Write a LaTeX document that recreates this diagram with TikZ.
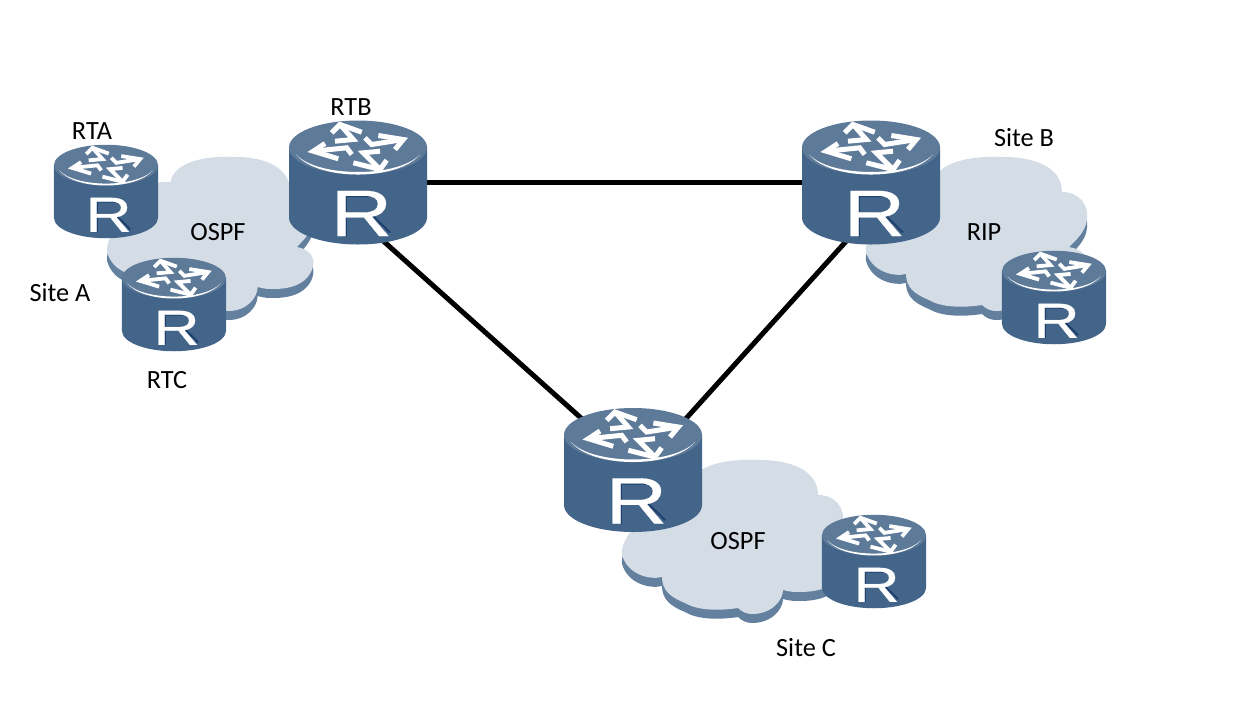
\documentclass[tikz,border=0pt]{standalone}
\usepackage{fontspec}
\setmainfont{Carlito}
\newfontfamily\routerfont[FakeBold=0.3]{Liberation Sans}
\usepackage{xcolor}
\definecolor{body}{HTML}{44658A}
\definecolor{lid}{HTML}{5E7A99}
\definecolor{rshadow}{HTML}{1E3F6B}
\definecolor{cloudtop}{HTML}{D4DCE6}
\definecolor{cloudside}{HTML}{64809F}
\usepackage{tikz}

\begin{document}
\begin{tikzpicture}[%
    x=1pt,
    y=1pt,
    caption/.style={
        font=\fontsize{26.3}{26.3}\selectfont,
        inner sep=0,
        text=black
    },
    link/.style={
        draw,
        black,
        line width=5pt
    },
    routerline/.style={line width=5pt},
    smallrouter/.style={
        scale=0.754,
        routerline/.style={line width=3.8pt}
    },
    arrowline/.style={
        draw=white,
        routerline,
        line join=miter
    },
    pics/router/.style={
        code={
            \fill [body] (-69,35) -- (-69,-35) arc (180:360:69 and 27) -- (69,35) -- cycle;
            \fill [lid] (0,35) ellipse (69 and 27);
            \fill [white] (-62,28) .. controls (-40,1.3) and (40,1.3) .. (62,28)
                .. controls (40,4.7) and (-40,4.7) .. cycle;
            % four bent arrows on the lid
            \draw [arrowline] (-26.3,49.7) -- (-18,58) -- (3.7,50.3);
            \draw [arrowline] (-18,58) -- (-4.7,43) -- (-23,41.3);
            \draw [arrowline] (20.3,47) -- (45.3,43) -- (37,33);
            \draw [arrowline] (45.3,43) -- (13.7,38) -- (7,44.7);
            \draw [arrowline] (-33,39) -- (-44.7,31.3) -- (-19.7,23.7);
            \draw [arrowline] (-44.7,31.3) -- (-11.3,34.7) -- (-6.3,28);
            \draw [arrowline] (-4.7,19.7) -- (22,13) -- (28.7,22.3);
            \draw [arrowline] (22,13) -- (5.3,29.7) -- (22,31.3);
            % letter with its dark edge
            \draw [rshadow, line width=1.8pt]
                (20,-13.7) -- (-12,-13.7) -- (-12,-54)
                (-12,-30.5) -- (12,-30.5) -- (32,-50);
            \node [
                font=\fontsize{65.6}{65.6}\selectfont\routerfont,
                text=white,
                inner sep=0,
                anchor=base,
                xscale=1.3,
                transform shape
            ] (-letter) at (3.5,-53.5) {R};
        }
    },
    pics/netcloud/.style={
        code={
            \foreach \drop/\tone in {-9/cloudside, 0/cloudtop} {
                \fill [\tone, yshift=\drop] (-41,50)
                    .. controls (-39,65) and (-16,77) .. (29,75)
                    .. controls (59,75) and (87,65) .. (87,40)
                    .. controls (104,40) and (114,27) .. (112,13)
                    .. controls (111,0) and (99,-10) .. (94,-15)
                    .. controls (107,-17) and (114,-25) .. (111,-35)
                    .. controls (107,-50) and (91,-57) .. (69,-57)
                    .. controls (64,-57) and (59,-57) .. (52,-55)
                    .. controls (52,-65) and (41,-79) .. (21,-79)
                    .. controls (16,-79) and (11,-77) .. (7,-73)
                    .. controls (-6,-75) and (-31,-77) .. (-46,-68)
                    .. controls (-61,-62) and (-69,-55) .. (-69,-42)
                    .. controls (-81,-45) and (-103,-40) .. (-109,-20)
                    .. controls (-111,-5) and (-91,15) .. (-81,30)
                    .. controls (-76,40) and (-61,52) .. (-41,50)
                    -- cycle;
            }
        }
    }
]

\useasboundingbox (0,0) rectangle (1253,-721);

\coordinate (rtb) at (358,-182.5);
\coordinate (rtd) at (871,-182.5);
\coordinate (rte) at (633,-470);
\coordinate (rta) at (106,-191.5);
\coordinate (rtc) at (174,-304.5);
\coordinate (rtf) at (1054,-297.5);
\coordinate (rtg) at (874,-561.5);

\pic [xscale=0.935] at (209,-232) {netcloud};
\pic at (975,-232) {netcloud};
\pic at (731,-535) {netcloud};

\draw [link] (rtb) -- (rtd);
\draw [link] ([shift={(12,-46.6)}]rtb) -- ([shift={(-33,35)}]rte);
\draw [link] ([shift={(-11,-43.4)}]rtd) -- ([shift={(37,33.8)}]rte);

\pic at (rtb) {router};
\pic at (rtd) {router};
\pic at (rte) {router};
\pic [smallrouter] at (rta) {router};
\pic [smallrouter] at (rtc) {router};
\pic [smallrouter] at (rtf) {router};
\pic [smallrouter] at (rtg) {router};

\node [caption] (rtalabel) at (92,-131) {RTA};
\node [caption] (rtblabel) at (351,-107) {RTB};
\node [caption] (rtclabel) at (167,-380) {RTC};
\node [caption] (sitea) at (60,-293) {Site A};
\node [caption] (siteb) at (1024,-138) {Site B};
\node [caption] (sitec) at (806,-648) {Site C};
\node [caption] (ospfa) at (218,-232) {OSPF};
\node [caption] (rip) at (984,-232) {RIP};
\node [caption] (ospfc) at (738,-541) {OSPF};

\end{tikzpicture}
\end{document}
